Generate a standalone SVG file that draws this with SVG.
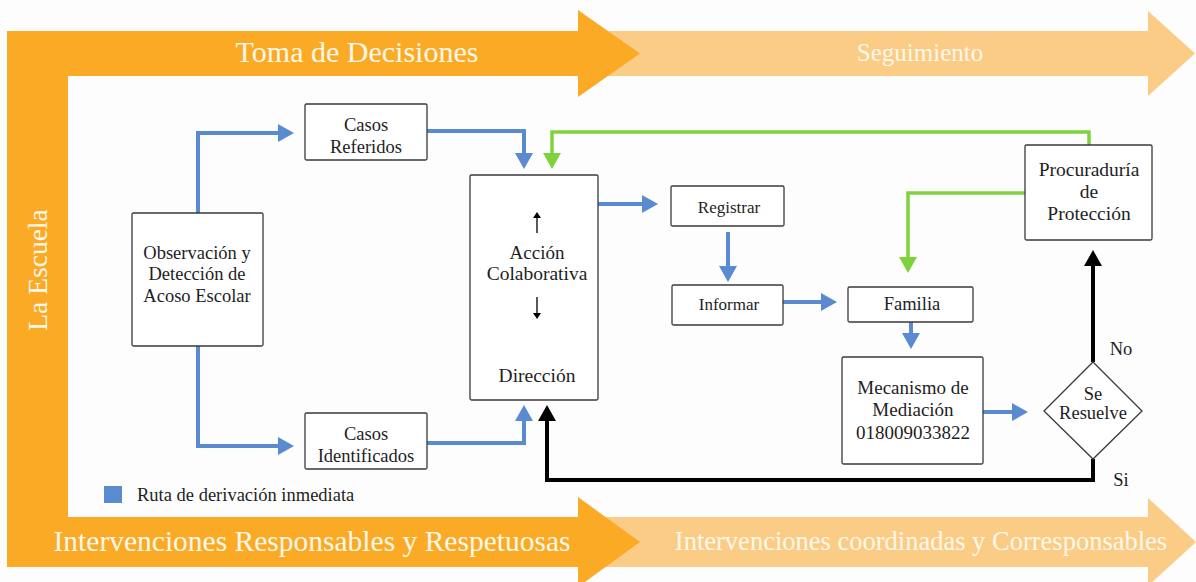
<svg xmlns="http://www.w3.org/2000/svg" width="1196" height="582" viewBox="0 0 1196 582">
<defs>
<style>
.box{fill:#fff;stroke:#3a3a3a;stroke-width:1.3}
.blue{fill:none;stroke:#5a8acf;stroke-width:4}
.green{fill:none;stroke:#80d23c;stroke-width:3.5}
.black{fill:none;stroke:#000;stroke-width:4}
.thin{fill:none;stroke:#000;stroke-width:1.3}
</style>
<marker id="ab" markerUnits="userSpaceOnUse" markerWidth="16" markerHeight="18" viewBox="0 0 16 18" refX="0" refY="9" orient="auto"><path d="M0,0 L16,9 L0,18 z" fill="#5a8acf"/></marker>
<marker id="ag" markerUnits="userSpaceOnUse" markerWidth="16" markerHeight="18" viewBox="0 0 16 18" refX="0" refY="9" orient="auto"><path d="M0,0 L16,9 L0,18 z" fill="#80d23c"/></marker>
<marker id="ak" markerUnits="userSpaceOnUse" markerWidth="16" markerHeight="18" viewBox="0 0 16 18" refX="0" refY="9" orient="auto"><path d="M0,0 L16,9 L0,18 z" fill="#000"/></marker>
<marker id="as" markerUnits="userSpaceOnUse" markerWidth="6" markerHeight="8" viewBox="0 0 6 8" refX="0" refY="4" orient="auto"><path d="M0,0 L6,4 L0,8 z" fill="#000"/></marker>
</defs>
<rect width="1196" height="582" fill="#fdfdfd"/>
<g id="banners" font-family="Liberation Serif, DejaVu Serif, serif" fill="#fff8ea" text-anchor="middle">
<path d="M578,31 H1148 V11 L1195,53.5 L1148,96 V76 H578 z" fill="#fbcc85"/>
<path d="M578,517 H1148 V498 L1196,542 L1148,586 V567 H578 z" fill="#fbcc85"/>
<path d="M7,31 H578 V10 L640,53.5 L578,97 V76 H68 V517 H578 V497 L640,542 L578,587 V567 H7 z" fill="#fbaa26"/>
<text x="357" y="62" font-size="30">Toma de Decisiones</text>
<text x="920" y="61" font-size="25">Seguimiento</text>
<text x="312" y="551" font-size="29.5">Intervenciones Responsables y Respetuosas</text>
<text x="921" y="550" font-size="26.5">Intervenciones coordinadas y Corresponsables</text>
<text x="0" y="0" font-size="27.5" transform="translate(47,270) rotate(-90)">La Escuela</text>
</g>
<g id="connectors">
<path class="blue" d="M198,213 V133 H278" marker-end="url(#ab)"/>
<path class="blue" d="M198,346 V446 H278" marker-end="url(#ab)"/>
<path class="blue" d="M427,131 H524 V153" marker-end="url(#ab)"/>
<path class="blue" d="M427,443 H524 V421" marker-end="url(#ab)"/>
<path class="blue" d="M598,204 H642" marker-end="url(#ab)"/>
<path class="blue" d="M728,232 V266" marker-end="url(#ab)"/>
<path class="blue" d="M783,302 H821" marker-end="url(#ab)"/>
<path class="blue" d="M911,322 V333" marker-end="url(#ab)"/>
<path class="blue" d="M983,412 H1012" marker-end="url(#ab)"/>
<path class="green" d="M1089,145 V132 H552 V153" marker-end="url(#ag)"/>
<path class="green" d="M1025,193 H908 V257" marker-end="url(#ag)"/>
<path class="black" d="M1093,362 V266" marker-end="url(#ak)"/>
<path class="black" d="M1093,459 V480 H547 V421" marker-end="url(#ak)"/>
</g>
<g id="nodes" font-family="Liberation Serif, DejaVu Serif, serif" font-size="18.5" fill="#1e1e1e" text-anchor="middle">
<g id="casos-referidos">
<rect class="box" x="305" y="104" width="122" height="56" rx="1.5"/>
<text x="366" y="131">Casos</text>
<text x="366" y="153">Referidos</text>
</g>
<g id="observacion">
<rect class="box" x="132" y="213" width="131" height="133" rx="1.5"/>
<text x="197" y="259">Observación y</text>
<text x="197" y="280">Detección de</text>
<text x="197" y="302">Acoso Escolar</text>
</g>
<g id="casos-identificados">
<rect class="box" x="305" y="413" width="122" height="56" rx="1.5"/>
<text x="366" y="440">Casos</text>
<text x="366" y="462">Identificados</text>
</g>
<g id="accion-colaborativa">
<rect class="box" x="470" y="175" width="128" height="225" rx="1.5"/>
<path class="thin" d="M537,233 V218" marker-end="url(#as)"/>
<text x="537" y="259" font-size="19">Acción</text>
<text x="537" y="280" font-size="19.5">Colaborativa</text>
<path class="thin" d="M537,297 V313" marker-end="url(#as)"/>
<text x="537" y="382" font-size="19.5">Dirección</text>
</g>
<g id="registrar">
<rect class="box" x="671" y="186" width="113" height="40" rx="1.5"/>
<text x="729" y="213" font-size="17">Registrar</text>
</g>
<g id="informar">
<rect class="box" x="672" y="285" width="111" height="40" rx="1.5"/>
<text x="729" y="310" font-size="17">Informar</text>
</g>
<g id="familia">
<rect class="box" x="848" y="287" width="125" height="35" rx="1.5"/>
<text x="912" y="310">Familia</text>
</g>
<g id="mecanismo">
<rect class="box" x="842" y="357" width="141" height="107" rx="1.5"/>
<text x="913" y="394" font-size="19">Mecanismo de</text>
<text x="913" y="416" font-size="19">Mediación</text>
<text x="913" y="439" font-size="19">018009033822</text>
</g>
<g id="procuraduria">
<rect class="box" x="1025" y="145" width="127" height="95" rx="1.5"/>
<text x="1089" y="176" font-size="19.5">Procuraduría</text>
<text x="1089" y="198" font-size="19.5">de</text>
<text x="1089" y="220" font-size="19.5">Protección</text>
</g>
<g id="se-resuelve">
<path class="box" d="M1093,362 L1142,411 L1093,459 L1044,411 z"/>
<text x="1093" y="400">Se</text>
<text x="1093" y="419">Resuelve</text>
<text x="1121" y="355">No</text>
<text x="1121" y="486">Si</text>
</g>
<g id="legend">
<rect x="104" y="486" width="18" height="17" fill="#5a8acf"/>
<text x="137" y="501" font-size="18.5" text-anchor="start">Ruta de derivación inmediata</text>
</g>
</g>
</svg>
